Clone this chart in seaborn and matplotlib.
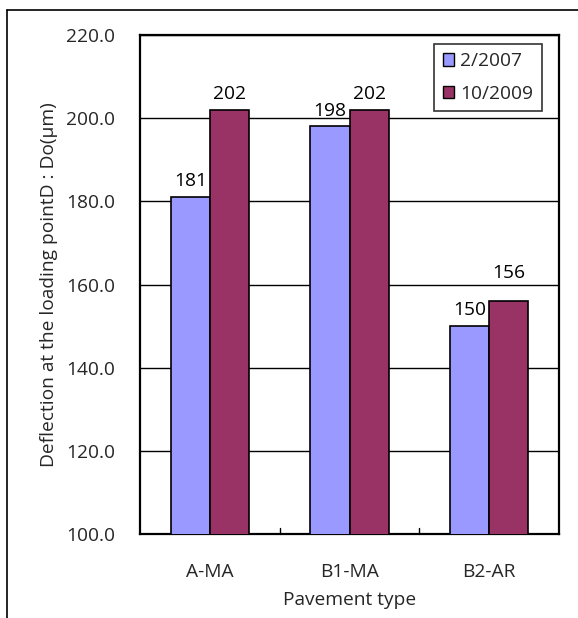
import matplotlib
matplotlib.use("Agg")
import matplotlib.pyplot as plt
import seaborn as sns
import pandas as pd
from matplotlib.lines import Line2D
from matplotlib.patches import Patch

# Data
pavement_types = ["A-MA", "B1-MA", "B2-AR"]
survey_dates = ["2/2007", "10/2009"]
deflection_2007 = [181, 198, 150]
deflection_2009 = [202, 202, 156]
y_ticks = [100.0, 120.0, 140.0, 160.0, 180.0, 200.0, 220.0]

bar_colors = ["#9999FF", "#993366"]

df = pd.DataFrame({
    "Pavement type": pavement_types * 2,
    "Date": [survey_dates[0]] * 3 + [survey_dates[1]] * 3,
    "Deflection": deflection_2007 + deflection_2009,
})

sns.set_theme(style="white")
plt.rcParams["font.family"] = ["Open Sans", "DejaVu Sans"]
FS = 13.8

fig = plt.figure(figsize=(5.78, 6.18), dpi=100)
ax = fig.add_axes([140 / 578, 1 - 534 / 618, 419 / 578, 499 / 618])

sns.barplot(data=df, x="Pavement type", y="Deflection", hue="Date",
            hue_order=survey_dates, palette=bar_colors, width=0.56,
            edgecolor="black", linewidth=1.2, saturation=1, ax=ax,
            legend=False, zorder=3)

ax.set_ylim(100, 220)
ax.set_yticks(y_ticks)
ax.set_yticklabels([f"{v:.1f}" for v in y_ticks], fontsize=FS)
ax.yaxis.grid(True, color="black", linewidth=1.0, zorder=0)
ax.set_axisbelow(True)
ax.tick_params(axis="y", length=0, pad=18)
ax.set_xlim(-0.5, 2.5)
ax.tick_params(axis="x", length=0, pad=21, labelsize=FS)
# small inward ticks between categories
for xb in [0.5, 1.5]:
    ax.plot([xb, xb], [100, 101.5], color="black", lw=1, zorder=4, clip_on=False)

for s in ax.spines.values():
    s.set_color("black")
    s.set_linewidth(1.6)
    s.set_visible(True)

ax.set_xlabel("Pavement type", fontsize=FS, labelpad=7)
ax.set_ylabel("Deflection at the loading pointD : Do(\u03bcm)", fontsize=FS, labelpad=6)

# value labels above bars
label_lift = [[0, 0, 0], [0, 0, 9]]
for hi, container in enumerate(ax.containers):
    vals = [deflection_2007, deflection_2009][hi]
    for bi, (bar, v) in enumerate(zip(container, vals)):
        ax.annotate(f"{v}", (bar.get_x() + bar.get_width() / 2, v),
                    xytext=(0, 5 + label_lift[hi][bi]), textcoords="offset points",
                    ha="center", va="bottom", fontsize=FS, color="black", zorder=5)

handles = [Patch(facecolor=c, edgecolor="black", linewidth=1.0) for c in bar_colors]
leg = ax.legend(handles, survey_dates, loc="upper right", bbox_to_anchor=(0.977, 0.998),
                fontsize=FS, frameon=True, fancybox=False, edgecolor="black",
                handlelength=0.6, handleheight=0.6, handletextpad=0.3,
                labelspacing=0.75, borderpad=0.45, borderaxespad=0.4)
leg.get_frame().set_linewidth(1.2)

# outer chart frame (left and top edges)
fig.add_artist(Line2D([7 / 578, 7 / 578], [0, 1 - 10 / 618], transform=fig.transFigure,
                      color="black", lw=1.2))
fig.add_artist(Line2D([7 / 578, 1], [1 - 10 / 618, 1 - 10 / 618], transform=fig.transFigure,
                      color="black", lw=1.2))

fig.savefig("out.png", dpi=100)
